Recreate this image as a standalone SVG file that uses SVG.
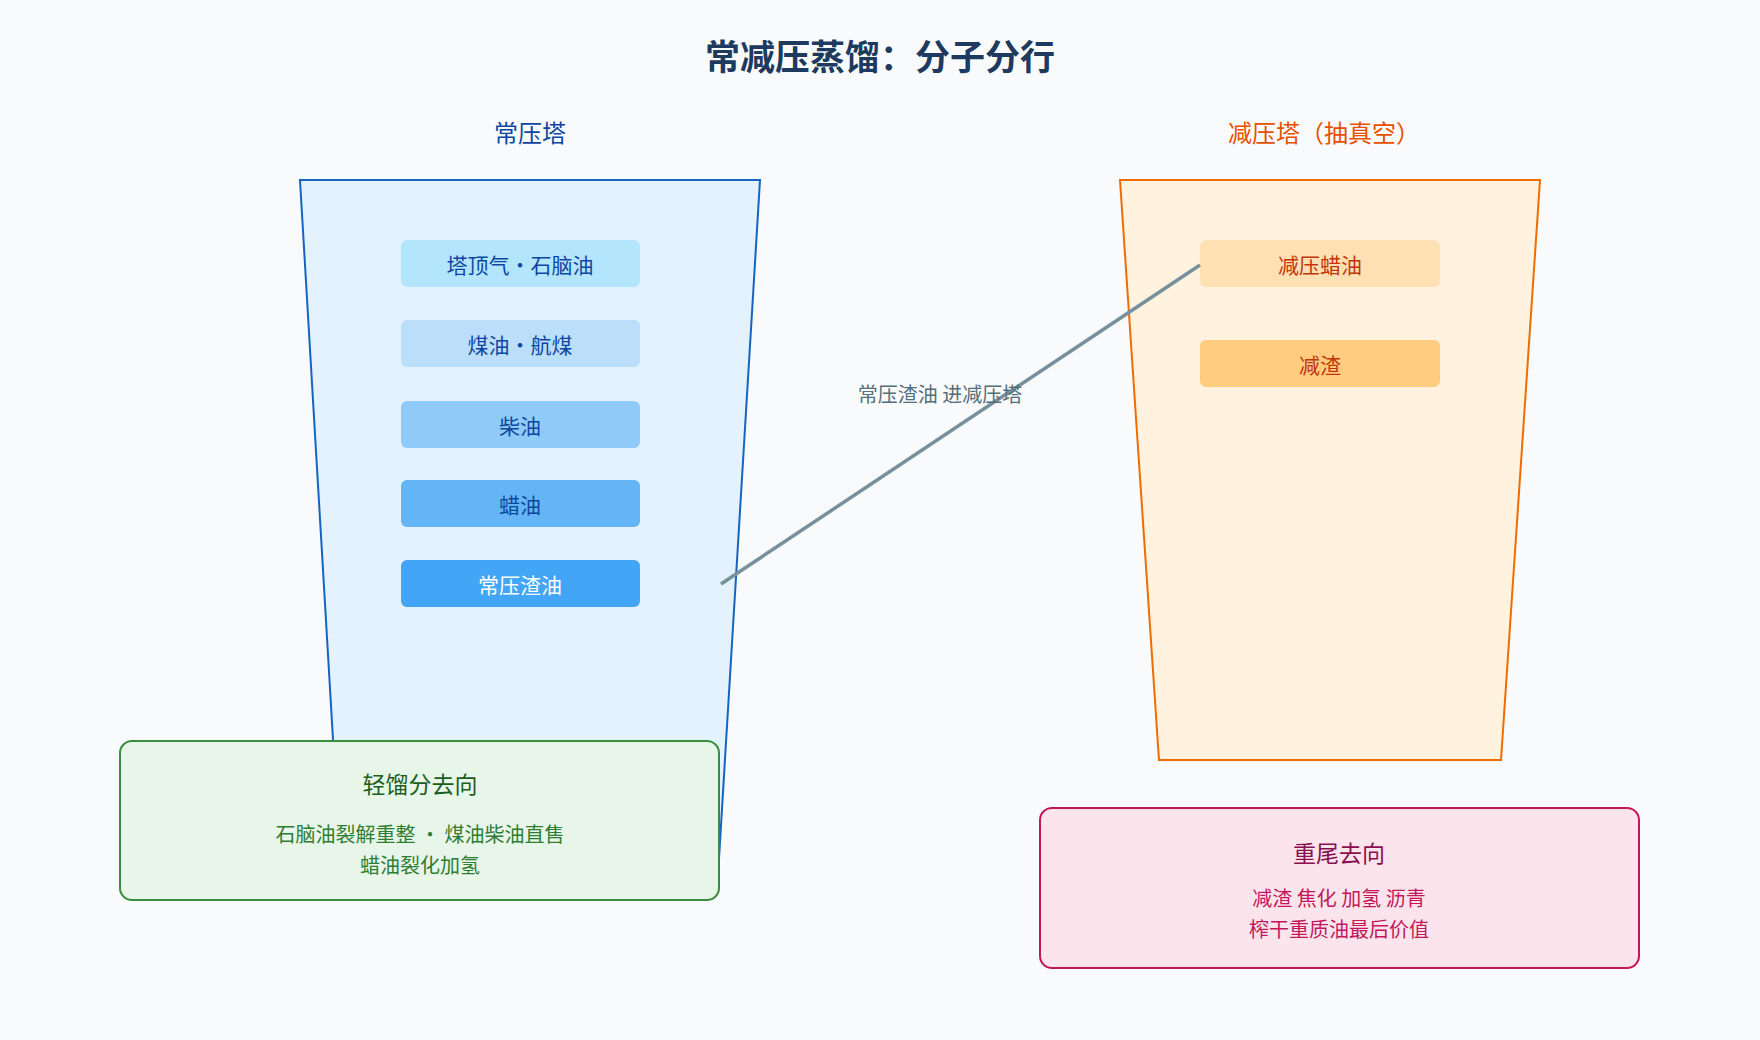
<svg xmlns="http://www.w3.org/2000/svg" width="1760" height="1040" viewBox="0 0 1760 1040">
<style>
text{font-family:"Noto Sans CJK SC","Noto Sans",sans-serif;text-anchor:middle;dominant-baseline:central}
.band{}
.bt{font-size:21px;fill:#0D47A1}
.ot{font-size:21px;fill:#BF360C}
</style>
<rect width="1760" height="1040" fill="#F8FAFC"/>
<text x="880" y="54" font-size="35" font-weight="bold" fill="#1E3A5F">常减压蒸馏：分子分行</text>
<text x="530" y="131" font-size="24" fill="#0D47A1">常压塔</text>
<text x="1324" y="131" font-size="24" fill="#E65100">减压塔（抽真空）</text>
<g id="atm-tower">
<polygon points="300,180 760,180 718,875 341,875" fill="#E3F2FD" stroke="#1565C0" stroke-width="2"/>
</g>
<g id="vac-tower">
<polygon points="1120,180 1540,180 1501,760 1159,760" fill="#FFF3E0" stroke="#EF6C00" stroke-width="2"/>
</g>
<g id="band-naphtha"><rect x="401" y="240" width="239" height="47" rx="6" fill="#B3E5FC"/><text class="bt" x="520" y="264">塔顶气·石脑油</text></g>
<g id="band-kero"><rect x="401" y="320" width="239" height="47" rx="6" fill="#BBDEFB"/><text class="bt" x="520" y="344">煤油·航煤</text></g>
<g id="band-diesel"><rect x="401" y="401" width="239" height="47" rx="6" fill="#90CAF9"/><text class="bt" x="520" y="425">柴油</text></g>
<g id="band-wax"><rect x="401" y="480" width="239" height="47" rx="6" fill="#64B5F6"/><text class="bt" x="520" y="504">蜡油</text></g>
<g id="band-resid"><rect x="401" y="560" width="239" height="47" rx="6" fill="#42A5F5"/><text class="bt" x="520" y="584" fill="#FFFFFF" style="fill:#fff">常压渣油</text></g>
<g id="band-vgo"><rect x="1200" y="240" width="240" height="47" rx="6" fill="#FFE0B2"/><text class="ot" x="1320" y="264">减压蜡油</text></g>
<g id="band-vr"><rect x="1200" y="340" width="240" height="47" rx="6" fill="#FFCC80"/><text class="ot" x="1320" y="364">减渣</text></g>
<g id="connectors">
<line x1="721" y1="584" x2="1200" y2="265" stroke="#78909C" stroke-width="3.5"/>
<text x="940" y="393" font-size="20" fill="#546E7A">常压渣油 进减压塔</text>
</g>
<g id="light-box">
<rect x="120" y="741" width="599" height="159" rx="12" fill="#E8F5E9" stroke="#388E3C" stroke-width="2"/>
<text x="420" y="783" font-size="23" fill="#1B5E20">轻馏分去向</text>
<text x="420" y="833" font-size="20" fill="#2E7D32">石脑油裂解重整 · 煤油柴油直售</text>
<text x="420" y="864" font-size="20" fill="#2E7D32">蜡油裂化加氢</text>
</g>
<g id="heavy-box">
<rect x="1040" y="808" width="599" height="160" rx="12" fill="#FCE4EC" stroke="#C2185B" stroke-width="2"/>
<text x="1339" y="852" font-size="23" fill="#880E4F">重尾去向</text>
<text x="1339" y="897" font-size="20" fill="#C2185B">减渣 焦化 加氢 沥青</text>
<text x="1339" y="928" font-size="20" fill="#C2185B">榨干重质油最后价值</text>
</g>
</svg>
